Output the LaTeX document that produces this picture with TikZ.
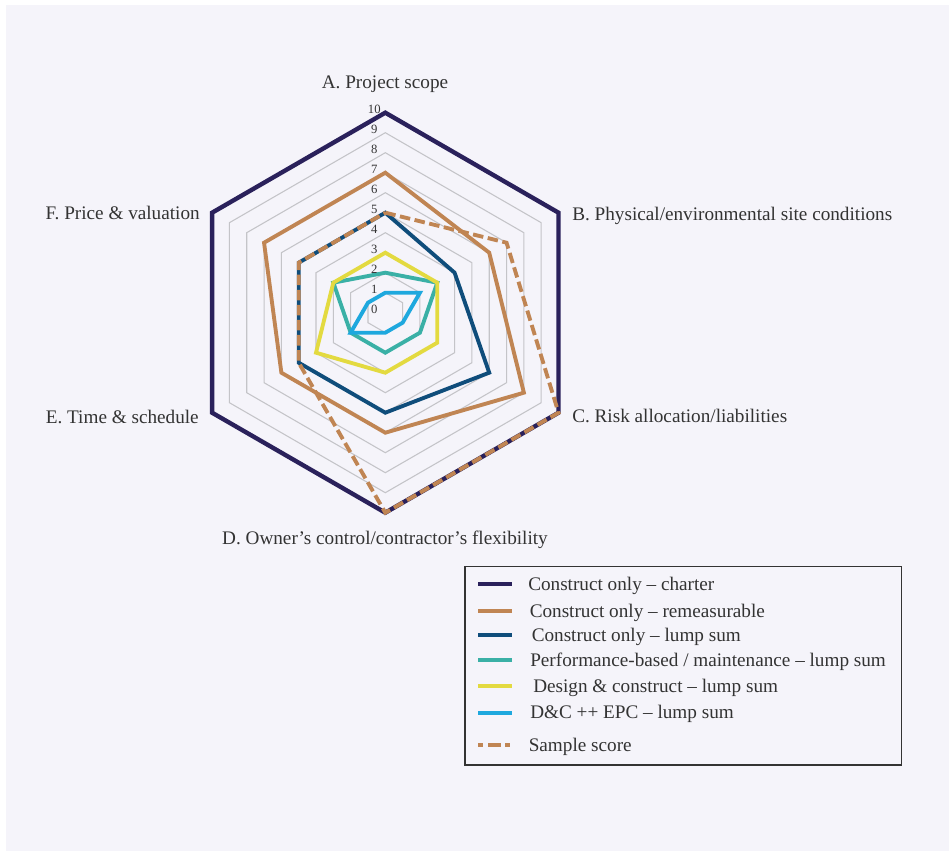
\documentclass[tikz,border=0pt]{standalone}
\usepackage{fontspec}
\setmainfont{Liberation Serif}
\definecolor{bgc}{HTML}{F5F4FA}
\definecolor{txt}{HTML}{333333}
\definecolor{gridc}{HTML}{C4C4C8}
\definecolor{charterc}{HTML}{2A215B}
\definecolor{remeasc}{HTML}{C08553}
\definecolor{lumpc}{HTML}{0F4D7B}
\definecolor{perfc}{HTML}{3AB0A6}
\definecolor{dncc}{HTML}{E3DA40}
\definecolor{epcc}{HTML}{1EA8DE}
\newcommand{\radarpoly}[7]{%
  \draw[#1] (90:{20*#2}) -- (30:{20*#3}) -- (-30:{20*#4}) -- (-90:{20*#5}) -- (210:{20*#6}) -- (150:{20*#7}) -- cycle;}
\begin{document}
\begin{tikzpicture}[x=0.75pt,y=0.75pt,
  gridline/.style={draw=gridc,line width=0.8pt},
  serline/.style={line width=2.9pt},
  charterline/.style={draw=charterc,line width=3.3pt},
  sampleline/.style={draw=remeasc,line width=2.9pt,dash pattern=on 7.9pt off 3.4pt},
  axlabel/.style={font=\fontsize{14.4}{17}\selectfont,text=txt,inner sep=0pt},
  ticklabel/.style={font=\fontsize{9.5}{11}\selectfont,text=txt,inner sep=0pt},
  legtext/.style={font=\fontsize{14.4}{17}\selectfont,text=txt,inner sep=0pt,anchor=west},
  legline/.style={line width=3.2pt}]
\useasboundingbox (0,0) rectangle (949,851);
\fill[white] (0,0) rectangle (949,851);
\fill[bgc] (6,0) rectangle (949,846);
\coordinate (O) at (385.3,538.3);
\begin{scope}[shift={(O)}]
  \foreach \r in {1,...,10}
    \draw[gridline] (90:{20*\r}) -- (30:{20*\r}) -- (-30:{20*\r}) -- (-90:{20*\r}) -- (210:{20*\r}) -- (150:{20*\r}) -- cycle;
  \radarpoly{charterline}{10}{10}{10}{10}{10}{10}
  \radarpoly{serline,draw=remeasc}{7}{6}{8}{6}{6}{7}
  \radarpoly{serline,draw=lumpc}{5}{4}{6}{5}{5}{5}
  \radarpoly{serline,draw=perfc}{2}{3}{2}{2}{2}{3}
  \radarpoly{serline,draw=dncc}{3}{3}{3}{3}{4}{3}
  \radarpoly{serline,draw=epcc}{1}{2}{1}{1}{2}{1}
  \radarpoly{sampleline}{5}{7}{10}{10}{5}{5}
  \foreach \v in {0,...,10}
    \node[ticklabel] (t\v) at (-11,{20*\v+3}) {\v};
\end{scope}
\node[axlabel] (la) at (385,767) {A. Project scope};
\node[axlabel,anchor=west] (lb) at (572,635) {B. Physical/environmental site conditions};
\node[axlabel,anchor=west] (lc) at (572,435) {C. Risk allocation/liabilities};
\node[axlabel] (ld) at (385,311) {D. Owner's control/contractor's flexibility};
\node[axlabel,anchor=east] (le) at (199,434.3) {E. Time \& schedule};
\node[axlabel,anchor=east] (lf) at (200,638.3) {F. Price \& valuation};
% legend
\draw[draw=txt,line width=1pt,fill=bgc] (465,284.3) rectangle (901.7,86);
\draw[legline,draw=charterc] (478,267) -- (512,267);
\node[legtext] (g1) at (528,265.5) {Construct only – charter};
\draw[legline,draw=remeasc] (478,240) -- (512,240);
\node[legtext] (g2) at (529.5,238.5) {Construct only – remeasurable};
\draw[legline,draw=lumpc] (478,216) -- (512,216);
\node[legtext] (g3) at (531.5,214.5) {Construct only – lump sum};
\draw[legline,draw=perfc] (478,191) -- (512,191);
\node[legtext] (g4) at (530,189.5) {Performance-based / maintenance – lump sum};
\draw[legline,draw=dncc] (478,165) -- (512,165);
\node[legtext] (g5) at (533,163.5) {Design \& construct – lump sum};
\draw[legline,draw=epcc] (478,138.3) -- (512,138.3);
\node[legtext] (g6) at (530,136.8) {D\&C ++ EPC – lump sum};
\draw[legline,draw=remeasc,dash pattern=on 3.5pt off 4pt on 9.8pt off 3pt] (478,106) -- (512,106);
\node[legtext] (g7) at (528.5,104.5) {Sample score};
\end{tikzpicture}
\end{document}
